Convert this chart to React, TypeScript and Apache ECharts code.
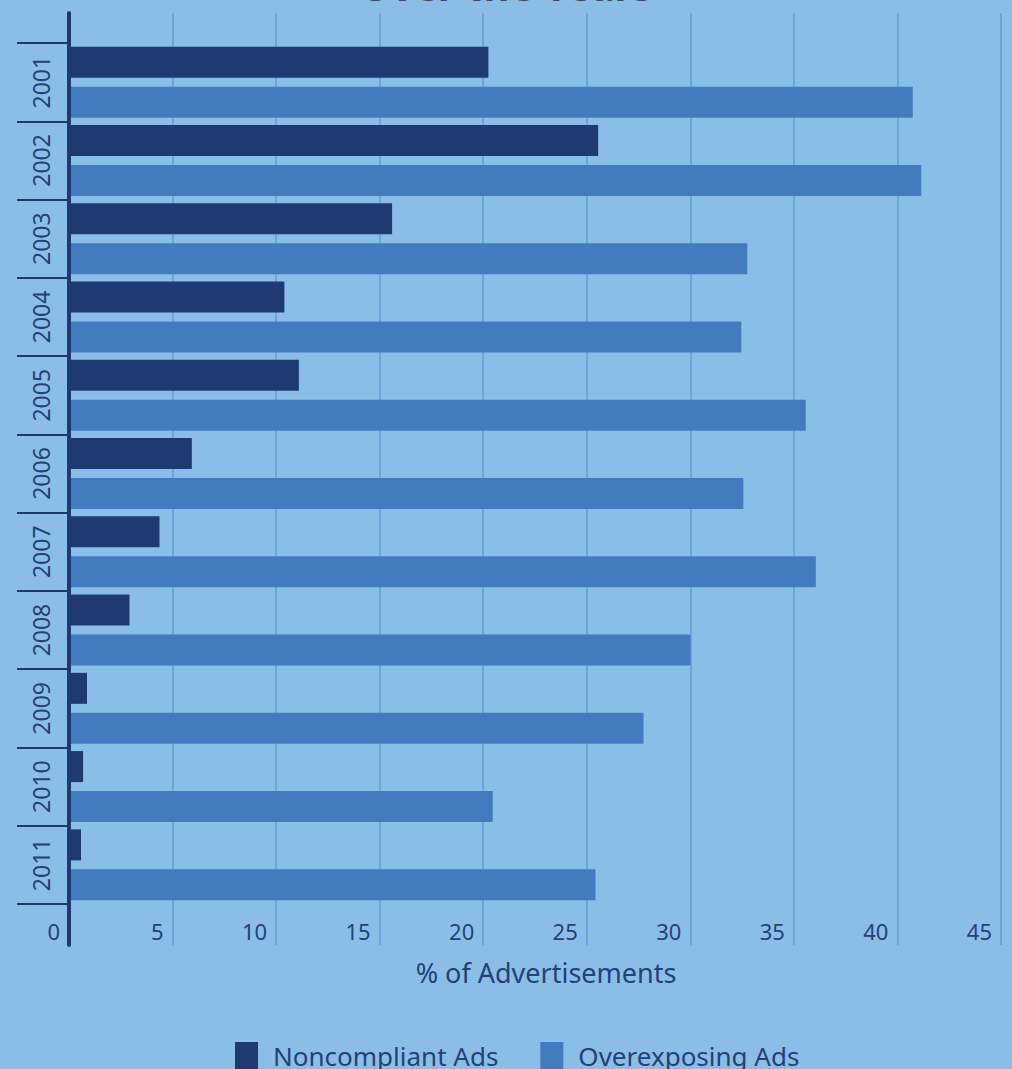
import { useEffect, useRef } from "react";
import * as echarts from "echarts";

const years = ["2001", "2002", "2003", "2004", "2005", "2006", "2007", "2008", "2009", "2010", "2011"];
const noncompliant = [20.25, 25.55, 15.6, 10.4, 11.1, 5.93, 4.37, 2.92, 0.87, 0.68, 0.58];
const overexposing = [40.74, 41.15, 32.75, 32.46, 35.57, 32.56, 36.06, 30.01, 27.74, 20.46, 25.42];
const xMin = 0;
const xMax = 45;
const xStep = 5;
const seriesNames = ["Noncompliant Ads", "Overexposing Ads"];
const axisTitle = "% of Advertisements";
const titleText = "Over the Years";

const BG = "#8bbee6";
const DARK = "#1f3a70";
const LIGHT = "#437bbf";
const GRIDLINE = "#6ea4d7";
const TEXT = "#24417a";

export default function App() {
  const ref = useRef<HTMLDivElement>(null);
  useEffect(() => {
    if (!ref.current) return;
    const chart = echarts.init(ref.current, undefined, { renderer: "svg" });
    chart.setOption({
      animation: false,
      backgroundColor: BG,
      textStyle: { fontFamily: "Noto Sans" },
      graphic: [
        {
          type: "text",
          left: "center",
          top: -35,
          style: {
            text: titleText,
            fontSize: 40,
            fontWeight: "bold",
            fill: "#3b4a66",
            fontFamily: "Noto Sans",
          },
          z: 10,
        },
      ],
      grid: [
        { left: 69, right: 11, top: 43, bottom: 1069 - 904 },
        { left: 69, right: 11, top: 13, bottom: 1069 - 945 },
      ],
      xAxis: [
        { type: "value", gridIndex: 0, min: xMin, max: xMax, interval: xStep, show: false },
        {
          type: "value",
          gridIndex: 1,
          min: xMin,
          max: xMax,
          interval: xStep,
          z: 0,
          axisLine: { show: false },
          axisTick: { show: false },
          splitLine: { show: true, lineStyle: { color: GRIDLINE, width: 2 } },
          axisLabel: {
            inside: true,
            margin: 3,
            align: "right",
            padding: [0, 9, 0, 0],
            color: TEXT,
            fontSize: 22,
            fontFamily: "Noto Sans",
            showMinLabel: true,
            showMaxLabel: true,
          },
          name: axisTitle,
          nameLocation: "middle",
          nameGap: 14,
          nameTextStyle: { color: TEXT, fontSize: 27, padding: [0, 0, 0, 22], fontFamily: "Noto Sans" },
        },
      ],
      yAxis: [
        {
          type: "category",
          gridIndex: 0,
          data: years,
          inverse: true,
          z: 5,
          axisLine: { show: false },
          axisTick: { show: true, length: 52, lineStyle: { color: DARK, width: 2 } },
          axisLabel: { rotate: 90, margin: 17, color: TEXT, fontSize: 23, fontFamily: "Noto Sans" },
          splitLine: { show: false },
        },
        {
          type: "value",
          gridIndex: 1,
          min: 0,
          max: 1,
          z: 10,
          axisLine: { show: true, lineStyle: { color: DARK, width: 4 } },
          axisTick: { show: false },
          axisLabel: { show: false },
          splitLine: { show: false },
        },
      ],
      legend: {
        left: 235,
        top: 1042,
        padding: 0,
        icon: "rect",
        itemWidth: 23,
        itemHeight: 28,
        itemGap: 42,
        data: seriesNames,
        textStyle: { color: TEXT, fontSize: 26, fontFamily: "Noto Sans", padding: [0, 0, 0, 10] },
      },
      series: [
        {
          name: seriesNames[0],
          type: "bar",
          xAxisIndex: 0,
          yAxisIndex: 0,
          data: noncompliant,
          barWidth: 31,
          barGap: "29%",
          itemStyle: { color: DARK },
        },
        {
          name: seriesNames[1],
          type: "bar",
          xAxisIndex: 0,
          yAxisIndex: 0,
          data: overexposing,
          barWidth: 31,
          barGap: "29%",
          itemStyle: { color: LIGHT },
        },
      ],
    });
    return () => chart.dispose();
  }, []);
  return (
    <div style={{ position: "fixed", left: 0, top: 0, width: 1012, height: 1069 }}>
      <div ref={ref} style={{ width: 1012, height: 1069 }} />
    </div>
  );
}
